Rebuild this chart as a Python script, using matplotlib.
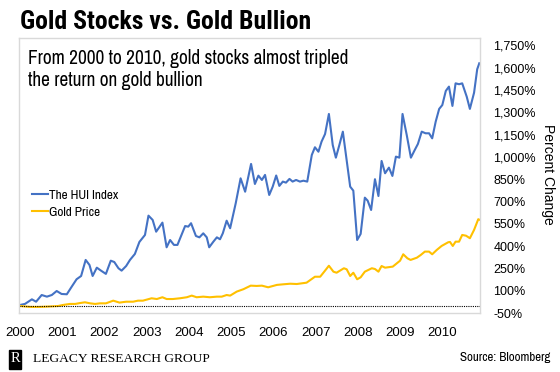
import matplotlib
matplotlib.use("Agg")
import matplotlib.pyplot as plt
from matplotlib.patches import Rectangle

# months since Jan 2000 and % change
hui_month = [0, 1.4, 3.4, 4.6, 6.2, 7.7, 9.1, 10.5, 11.9, 13.4,
             14.8, 16.2, 17.5, 18.8, 19.9, 20.8, 22.0, 23.2, 24.6, 26.0,
             27.0, 28.2, 29.1, 30.4, 31.5, 32.9, 34.2, 35.8, 36.8, 38.0,
             39.0, 40.8, 42.0, 43.0, 44.1, 45.1, 47.3, 48.2, 49.0, 50.4,
             51.4, 52.5, 53.5, 54.2, 55.4, 56.4, 57.3, 58.1, 59.2, 60.2,
             61.8, 63.2, 64.5, 66.2, 67.3, 68.3, 69.3, 70.2, 71.4, 72.4,
             73.4, 74.3, 75.3, 76.2, 77.2, 78.1, 79.1, 80.2, 81.2, 82.3,
             83.6, 84.5, 85.5, 86.4, 87.4, 88.5, 89.6, 90.5, 91.5, 92.5,
             94.6, 95.5, 96.6, 97.6, 98.8, 99.6, 100.6, 101.7, 102.7, 103.6,
             104.6, 105.7, 106.7, 107.7, 108.7, 109.6, 110.8, 112.0, 113.0, 114.0,
             115.1, 116.2, 117.2, 118.1, 119.1, 120.1, 121.0, 122.0, 122.9, 123.9,
             124.8, 125.8, 126.7, 128.0, 128.9, 130.1, 131.0, 131.6]
hui_pct = [4, 11, 42, 26, 71, 60, 71, 98, 78, 76,
           127, 177, 199, 307, 273, 199, 255, 235, 213, 302,
           293, 251, 235, 266, 307, 347, 428, 475, 605, 576,
           497, 558, 392, 441, 408, 408, 535, 531, 554, 468,
           459, 486, 459, 392, 430, 459, 446, 486, 571, 520,
           688, 856, 766, 953, 818, 874, 845, 879, 744, 800,
           875, 805, 834, 827, 852, 834, 845, 834, 840, 834,
           1013, 1065, 1035, 1103, 1154, 1289, 1080, 995, 1080, 1170,
           800, 773, 441, 482, 726, 706, 643, 850, 737, 973,
           890, 928, 872, 1002, 995, 1289, 1148, 995, 1042, 1087,
           1170, 1159, 1159, 1125, 1237, 1323, 1349, 1444, 1473, 1343,
           1495, 1489, 1495, 1405, 1323, 1432, 1590, 1630]

gold_month = [0, 2.9, 5.7, 8.6, 10.9, 12.3, 14.3, 15.8, 17.2, 18.6,
              20.1, 21.5, 22.9, 24.6, 26.7, 28.5, 30.4, 32.4, 33.8, 35.2,
              37.7, 39.2, 40.8, 42.0, 43.8, 45.8, 47.8, 49.2, 50.6, 52.5,
              54.4, 56.4, 57.8, 59.2, 60.2, 62.1, 64.0, 66.1, 67.8, 69.3,
              71.1, 73.6, 75.4, 77.4, 79.3, 82.1, 84.5, 86.0, 87.4, 88.5,
              89.8, 90.7, 92.8, 93.6, 94.6, 95.5, 96.6, 97.6, 98.8, 100.8,
              101.7, 102.7, 103.6, 104.6, 106.8, 108.9, 109.8, 111.0, 111.9, 113.7,
              114.8, 116.0, 117.2, 118.1, 119.4, 120.8, 122.7, 123.2, 124.0, 124.8,
              125.8, 126.7, 127.8, 128.9, 130.1, 131.3, 131.8]
gold_pct = [-3, -9, -9, -6, -3, 4, 11, 11, 17, 22,
            15, 11, 15, 15, 33, 20, 26, 26, 33, 33,
            49, 44, 56, 44, 44, 49, 56, 67, 56, 60,
            56, 60, 60, 71, 67, 94, 110, 134, 132, 134,
            123, 139, 143, 147, 145, 154, 194, 194, 235, 268,
            228, 221, 251, 244, 199, 221, 177, 190, 228, 251,
            246, 228, 266, 255, 262, 302, 345, 318, 307, 322,
            340, 363, 363, 345, 374, 401, 426, 428, 401, 430,
            430, 475, 470, 453, 509, 581, 576]

year_labels = ["2000", "2001", "2002", "2003", "2004", "2005",
               "2006", "2007", "2008", "2009", "2010"]
y_ticks = list(range(-50, 1751, 150))

NARROW = ["Archivo Narrow", "Liberation Sans", "DejaVu Sans"]
NARROW_BOLD = ["Roboto Condensed", "IBM Plex Sans Condensed", "Liberation Sans", "DejaVu Sans"]
plt.rcParams["font.family"] = ["Liberation Sans", "DejaVu Sans"]

fig = plt.figure(figsize=(5.6, 3.72), dpi=100)
ax = fig.add_axes([19 / 560, 1 - 313 / 372, 461 / 560, 275 / 372])

ax.plot(hui_month, hui_pct, color="#4472C4", lw=1.5, label="The HUI Index")
ax.plot(gold_month, gold_pct, color="#FFC000", lw=1.5, label="Gold Price")
ax.axhline(0, color="black", lw=0.8, ls=(0, (1, 1)))

ax.set_xlim(-0.3, 131.8)
ax.set_ylim(-50, 1800)
ax.set_xticks([])
ax.yaxis.tick_right()
ax.set_yticks(y_ticks)
ax.set_yticklabels([f"{v:,}%" for v in y_ticks], fontsize=9)
ax.tick_params(axis="y", length=0, pad=9.5)
for sp in ax.spines.values():
    sp.set_color("#d9d9d9")
    sp.set_linewidth(1)

# one label per year, drawn below the frame
for k, lab in enumerate(year_labels):
    ax.text(12.1 * k, -0.073, lab, transform=ax.get_xaxis_transform(),
            ha="center", va="center", fontsize=9.5, clip_on=False)

ax.legend(loc="center left", bbox_to_anchor=(0.028, 0.398), frameon=False,
          prop={"family": NARROW, "size": 9.5}, handlelength=1.2,
          handletextpad=0.1, labelspacing=0.45, borderpad=0, borderaxespad=0)

fig.text(548 / 560, 1 - 174 / 372, "Percent Change", rotation=270,
         ha="center", va="center", fontsize=10)

fig.text(20 / 560, 1 - 29 / 372, "Gold Stocks vs. Gold Bullion",
         family=NARROW_BOLD, fontsize=18.5, fontweight="bold", va="baseline")
fig.text(28 / 560, 1 - 63.5 / 372, "From 2000 to 2010, gold stocks almost tripled",
         family=NARROW, fontsize=13.9, va="baseline")
fig.text(28 / 560, 1 - 85.5 / 372, "the return on gold bullion",
         family=NARROW, fontsize=13.9, va="baseline")

# footer
fig.patches.append(Rectangle((9 / 560, 1 - 369 / 372), 12 / 560, 19 / 372,
                             transform=fig.transFigure, color="black"))
fig.text(15 / 560, 1 - 359 / 372, "R", color="white", family="Liberation Serif",
         fontsize=10.5, ha="center", va="center")
fig.text(33 / 560, 1 - 362 / 372, "LEGACY RESEARCH GROUP",
         family="Liberation Serif", fontsize=9.7, va="baseline")
fig.text(550 / 560, 1 - 361 / 372, "Source: Bloomberg",
         family=NARROW, fontsize=9.3, ha="right", va="baseline")

fig.savefig("out.png", dpi=100)
